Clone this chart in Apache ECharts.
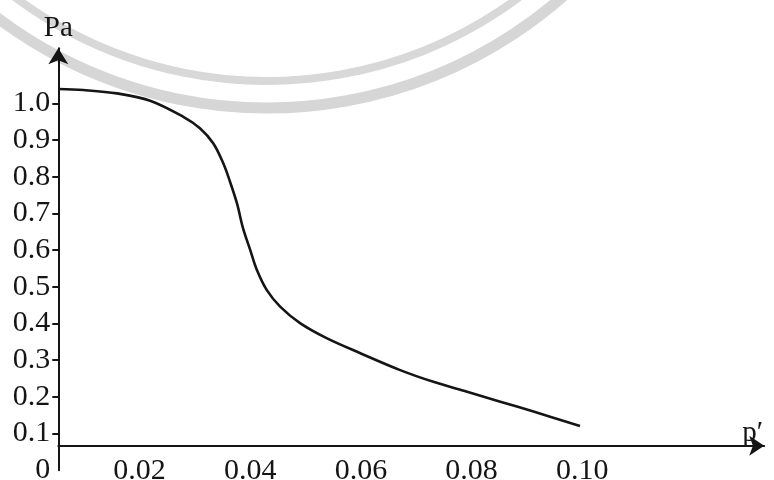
<!DOCTYPE html>
<html><head><meta charset="utf-8">
<script src="https://cdn.jsdelivr.net/npm/echarts@6/dist/echarts.min.js"></script>
<style>html,body{margin:0;padding:0;background:#fff}#c{width:774px;height:480px}</style>
</head><body><div id="c"></div>
<script>
// p' values (horizontal) and Pa values (vertical)
const pValues  = [0.0053, 0.0098, 0.0159, 0.0219, 0.0279, 0.0309, 0.0333, 0.0351, 0.0363, 0.0376, 0.0387, 0.0400, 0.0412, 0.0430, 0.0454, 0.0490, 0.0538, 0.0599, 0.0671, 0.0731, 0.0792, 0.0852, 0.0912, 0.0996];
const paValues = [1.039, 1.036, 1.027, 1.007, 0.963, 0.932, 0.891, 0.837, 0.788, 0.727, 0.659, 0.600, 0.546, 0.491, 0.446, 0.401, 0.360, 0.319, 0.273, 0.241, 0.214, 0.187, 0.160, 0.121];
const xTickLabels = [0.02, 0.04, 0.06, 0.08, 0.10];
const yTickMarks  = [0.1, 0.2, 0.3, 0.4, 0.5, 0.6, 0.7, 0.8, 0.9, 1.0];
const yTickLabels = [0, 0.1, 0.2, 0.3, 0.4, 0.5, 0.6, 0.7, 0.8, 0.9, 1.0];
const xAxisLevel = 0.067;   // Pa level where the p' axis line is drawn
const xRange = [0.0053, 0.1329];
const yRange = [0, 1.15];

const FONT = 'Liberation Serif';
const INK = '#151515';
const chart = echarts.init(document.getElementById('c'), null, {renderer: 'canvas'});
chart.setOption({
  animation: false,
  backgroundColor: '#ffffff',
  grid: {left: 58.3, right: 9.8, top: 48.2, bottom: 9.7, containLabel: false, outerBoundsMode: 'none'},
  graphic: [
    {type: 'arc', z: -10, silent: true, shape: {cx: 267, cy: -340, r: 448, startAngle: 0.2, endAngle: 2.9},
     style: {stroke: '#d6d6d6', lineWidth: 11, fill: null}},
    {type: 'arc', z: -10, silent: true, shape: {cx: 267, cy: -340, r: 421, startAngle: 0.2, endAngle: 2.9},
     style: {stroke: '#d8d8d8', lineWidth: 8, fill: null}}
  ],
  xAxis: {
    type: 'value', min: xRange[0], max: xRange[1], position: 'bottom',
    axisLine: {show: true, onZero: true, onZeroAxisIndex: 1, symbol: ['none', 'arrow'], symbolSize: [15, 15],
      lineStyle: {color: INK, width: 2}},
    axisTick: {show: false}, splitLine: {show: false},
    axisLabel: {customValues: xTickLabels, formatter: v => v.toFixed(2), fontFamily: FONT, fontSize: 30, color: INK, margin: -14},
    name: 'p\u2032', nameLocation: 'end', nameGap: -22,
    nameTextStyle: {fontFamily: FONT, fontSize: 29, color: INK, verticalAlign: 'bottom', align: 'left', lineHeight: 24}
  },
  yAxis: [
    {
      type: 'value', min: yRange[0], max: yRange[1], position: 'left',
      axisLine: {show: true, onZero: false, symbol: ['none', 'arrow'], symbolSize: [15, 16],
        lineStyle: {color: INK, width: 2}},
      axisTick: {show: true, customValues: yTickMarks, length: 6, inside: false, lineStyle: {color: INK, width: 2}},
      splitLine: {show: false},
      axisLabel: {customValues: yTickLabels, formatter: v => (v === 0 ? '0' : v.toFixed(1)), fontFamily: FONT, fontSize: 30, color: INK, margin: 8},
      name: 'Pa', nameLocation: 'end', nameGap: 5,
      nameTextStyle: {fontFamily: FONT, fontSize: 29, color: INK, align: 'center'}
    },
    {
      type: 'value', min: yRange[0] - xAxisLevel, max: yRange[1] - xAxisLevel, show: false
    }
  ],
  series: [{
    type: 'line', xAxisIndex: 0, yAxisIndex: 0,
    data: pValues.map((p, i) => [p, paValues[i]]),
    showSymbol: false, smooth: 0.35,
    lineStyle: {color: INK, width: 2.6}
  }]
});
</script></body></html>
